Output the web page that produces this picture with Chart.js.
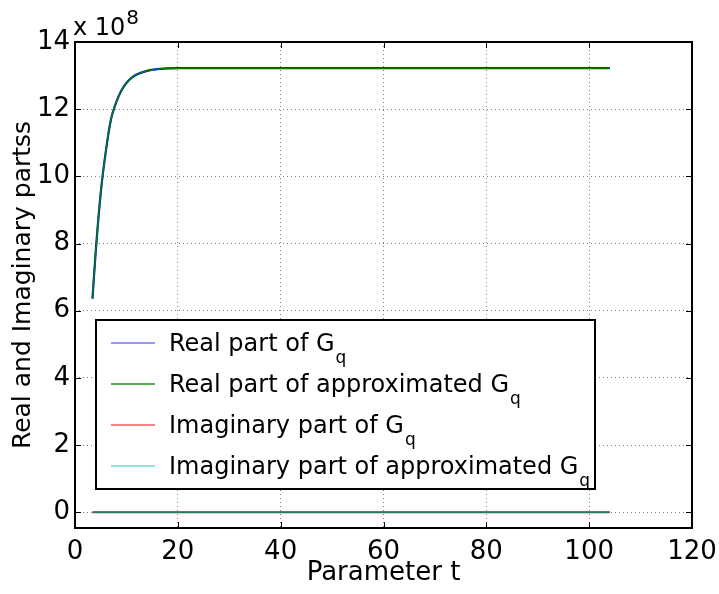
<!DOCTYPE html>
<html>
<head>
<meta charset="utf-8">
<title>Real and Imaginary parts of Gq</title>
<script src="https://cdn.jsdelivr.net/npm/chart.js@4.4.1/dist/chart.umd.min.js"></script>
<style>
    html, body { margin: 0; padding: 0; background: #ffffff; }
    #chart { display: block; }
</style>
</head>
<body>
<canvas id="chart" width="719" height="594"></canvas>
<script>
// Values (y in units of 1e8, shown by the "x 10^8" label)
const tSamples = [3.4, 4, 5, 6, 7, 8, 9, 10, 11, 12, 14, 16, 20, 30, 50, 70, 104];
const realG = [6.36, 7.7, 9.5, 10.75, 11.7, 12.2, 12.55, 12.78, 12.93, 13.03, 13.14, 13.19, 13.22, 13.22, 13.22, 13.22, 13.22];
const realApprox = [6.36, 7.7, 9.5, 10.75, 11.7, 12.2, 12.55, 12.78, 12.93, 13.03, 13.14, 13.19, 13.22, 13.22, 13.22, 13.22, 13.22];
const imagT = [3.4, 104];
const imagG = [0, 0];
const imagApprox = [0, 0];

const xTicks = [0, 20, 40, 60, 80, 100, 120];
const yTicks = [0, 2, 4, 6, 8, 10, 12, 14];
const seriesLabels = ['Real part of G', 'Real part of approximated G', 'Imaginary part of G', 'Imaginary part of approximated G'];
const seriesSub = 'q';
const yExponent = '8';

const FONT = '"DejaVu Sans", "Liberation Sans", Arial, sans-serif';

function toPoints(xs, ys) {
    return xs.map((x, i) => ({ x: x, y: ys[i] }));
}

// MATLAB style box, inward ticks and the exponent label
const matlabAxes = {
    id: 'matlabAxes',
    afterDraw(chart) {
        const ctx = chart.ctx;
        const a = chart.chartArea;
        const xs = chart.scales.x;
        const ys = chart.scales.y;
        const tl = 6;

        ctx.save();
        ctx.strokeStyle = '#000';
        ctx.lineWidth = 1;
        ctx.beginPath();
        xTicks.forEach(v => {
            const px = Math.round(xs.getPixelForValue(v)) + 0.5;
            ctx.moveTo(px, a.bottom); ctx.lineTo(px, a.bottom - tl);
            ctx.moveTo(px, a.top); ctx.lineTo(px, a.top + tl);
        });
        yTicks.forEach(v => {
            const py = Math.round(ys.getPixelForValue(v)) + 0.5;
            ctx.moveTo(a.left, py); ctx.lineTo(a.left + tl, py);
            ctx.moveTo(a.right, py); ctx.lineTo(a.right - tl, py);
        });
        ctx.stroke();

        ctx.lineWidth = 2;
        ctx.strokeRect(a.left, a.top, a.right - a.left, a.bottom - a.top);

        // x 10^8
        ctx.fillStyle = '#000';
        ctx.textAlign = 'left';
        ctx.textBaseline = 'alphabetic';
        ctx.font = '24px ' + FONT;
        const base = 'x 10';
        ctx.fillText(base, a.left - 2, 35);
        const w = ctx.measureText(base).width;
        ctx.font = '20px ' + FONT;
        ctx.fillText(yExponent, a.left - 2 + w + 1, 24);
        ctx.restore();
    },
    afterDatasetsDraw(chart) {
        const ctx = chart.ctx;
        const box = { left: 96, top: 320, right: 595, bottom: 489 };
        const rowY = [343, 384, 425, 466];
        const sampleColors = ['#7575ff', '#1f8f1f', '#ff5a5a', '#6fd6d6'];

        ctx.save();
        ctx.fillStyle = '#fff';
        ctx.fillRect(box.left, box.top, box.right - box.left, box.bottom - box.top);
        ctx.strokeStyle = '#000';
        ctx.lineWidth = 2;
        ctx.strokeRect(box.left, box.top, box.right - box.left, box.bottom - box.top);

        chart.data.datasets.forEach((ds, i) => {
            const y = rowY[i];
            ctx.strokeStyle = sampleColors[i];
            ctx.lineWidth = 1.5;
            ctx.beginPath();
            ctx.moveTo(111, y);
            ctx.lineTo(155, y);
            ctx.stroke();

            ctx.fillStyle = '#000';
            ctx.textAlign = 'left';
            ctx.textBaseline = 'alphabetic';
            ctx.font = '24px ' + FONT;
            ctx.fillText(ds.label, 169, y + 8);
            const w = ctx.measureText(ds.label).width;
            ctx.font = '17px ' + FONT;
            ctx.fillText(seriesSub, 169 + w + 1, y + 20);
        });
        ctx.restore();
    }
};

const chart = new Chart(document.getElementById('chart'), {
    type: 'line',
    data: {
        datasets: [
            {
                label: seriesLabels[0],
                data: toPoints(tSamples, realG),
                borderColor: 'rgb(0, 0, 255)',
                borderWidth: 2.2,
                order: 4
            },
            {
                label: seriesLabels[1],
                data: toPoints(tSamples, realApprox),
                borderColor: 'rgb(0, 128, 0)',
                borderWidth: 1.5,
                order: 3
            },
            {
                label: seriesLabels[2],
                data: toPoints(imagT, imagG),
                borderColor: 'rgb(255, 0, 0)',
                borderWidth: 2,
                order: 2
            },
            {
                label: seriesLabels[3],
                data: toPoints(imagT, imagApprox),
                borderColor: 'rgb(0, 150, 150)',
                borderWidth: 1.2,
                order: 1
            }
        ]
    },
    options: {
        responsive: false,
        animation: false,
        events: [],
        layout: {
            padding: { top: 42, right: 27, left: 0, bottom: 0 }
        },
        elements: {
            point: { radius: 0 },
            line: { cubicInterpolationMode: 'monotone', fill: false }
        },
        plugins: {
            legend: { display: false },
            tooltip: { enabled: false }
        },
        scales: {
            x: {
                type: 'linear',
                min: 0,
                max: 120,
                afterBuildTicks: (scale) => { scale.ticks = xTicks.map(v => ({ value: v })); },
                afterFit: (scale) => {
                    scale.height = 66;
                    scale.paddingRight = 10;
                    scale.paddingLeft = 10;
                },
                grid: { color: 'rgba(0,0,0,0.5)', lineWidth: 1, drawTicks: false },
                border: { display: false, dash: [1, 3] },
                ticks: {
                    autoSkip: false,
                    maxRotation: 0,
                    padding: 9,
                    color: '#000',
                    font: { family: FONT, size: 26 }
                },
                title: {
                    display: true,
                    text: 'Parameter t',
                    color: '#000',
                    font: { family: FONT, size: 26 },
                    padding: { top: 0, bottom: 5 }
                }
            },
            y: {
                type: 'linear',
                min: -0.47,
                max: 14,
                afterBuildTicks: (scale) => { scale.ticks = yTicks.map(v => ({ value: v })); },
                afterFit: (scale) => { scale.width = 75; },
                grid: { color: 'rgba(0,0,0,0.5)', lineWidth: 1, drawTicks: false },
                border: { display: false, dash: [1, 3] },
                ticks: {
                    autoSkip: false,
                    padding: 5,
                    color: '#000',
                    font: { family: FONT, size: 26 }
                },
                title: {
                    display: true,
                    text: 'Real and Imaginary partss',
                    color: '#000',
                    font: { family: FONT, size: 25 },
                    padding: { top: 8, bottom: 0 }
                }
            }
        }
    },
    plugins: [matlabAxes]
});
</script>
</body>
</html>
